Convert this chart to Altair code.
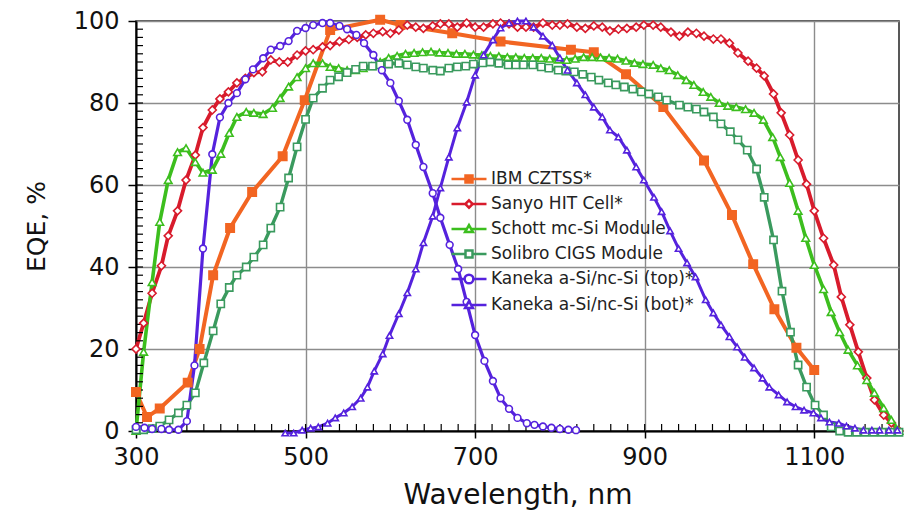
import altair as alt
import pandas as pd

# ---------------- data ----------------
names = [
    "IBM CZTSS*",
    "Sanyo HIT Cell*",
    "Schott mc-Si Module",
    "Solibro CIGS Module",
    "Kaneka a-Si/nc-Si (top)*",
    "Kaneka a-Si/nc-Si (bot)*",
]

ibm_wl = [300, 313, 328, 361, 375, 391, 411, 437, 473, 499, 529, 588, 612, 673, 730, 813, 840, 878, 922, 970, 1003, 1028, 1053, 1079, 1100]
ibm_eqe = [9.5, 3.4, 5.5, 11.8, 20, 38, 49.5, 58.3, 67, 80.7, 97.8, 100.3, 99, 97, 95, 93, 92.4, 87, 79, 66, 52.7, 40.7, 29.7, 20.3, 14.9]

sanyo_wl = [300, 309, 319, 330, 338, 349, 359, 370, 379, 390,
            399, 409, 419, 429, 439, 449, 459, 469, 479, 490,
            500, 509, 520, 529, 540, 551, 561, 571, 580, 591,
            600, 610, 620, 630, 639, 650, 659, 669, 679, 690,
            700, 710, 721, 730, 740, 750, 760, 769, 780, 791,
            800, 809, 820, 830, 840, 850, 859, 869, 879, 890,
            899, 910, 919, 931, 941, 951, 961, 970, 981, 990,
            1000, 1010, 1022, 1032, 1041, 1052, 1061, 1071, 1081, 1091,
            1100, 1111, 1123, 1132, 1142, 1152, 1162, 1171, 1182, 1191,
            1200]
sanyo_eqe = [20, 26.3, 33.6, 40.3, 47.6, 53.7, 61.2, 67.3, 74, 78.3,
             81, 82.7, 84.9, 86, 87.4, 87.6, 90.5, 90, 90, 91.7,
             92.7, 93, 93.7, 94, 95, 95.5, 96, 96.6, 97, 97.4,
             97, 97.8, 99, 98.5, 98.2, 98.8, 99.3, 99.3, 98.5, 99.5,
             98.5, 98.5, 99.3, 99.5, 99.3, 98.5, 98.5, 98.5, 99.5, 99,
             99, 99.3, 98.5, 98.2, 98.8, 98.5, 97.6, 98, 98.2, 98.5,
             99, 99, 98.5, 97.3, 96.3, 97.3, 97, 96.3, 95.6, 95.6,
             94.6, 92.2, 90.2, 88.5, 86.6, 82.2, 77.6, 72.2, 66.1, 60.2,
             53.7, 47, 40.5, 32.7, 25.9, 19.3, 12.9, 7.6, 3.9, 2,
             0]

schott_wl = [300, 309, 319, 328, 338, 349, 359, 370, 379, 390,
             400, 410, 419, 430, 439, 450, 461, 470, 480, 490,
             500, 509, 520, 529, 539, 549, 559, 568, 578, 588,
             598, 608, 618, 628, 638, 648, 658, 668, 678, 688,
             698, 708, 718, 728, 738, 748, 758, 768, 778, 788,
             798, 808, 818, 828, 838, 848, 858, 868, 878, 888,
             898, 910, 919, 929, 939, 949, 958, 969, 978, 988,
             998, 1008, 1019, 1029, 1040, 1051, 1060, 1071, 1081, 1090,
             1100, 1111, 1120, 1130, 1140, 1151, 1162, 1171, 1182, 1191,
             1200]
schott_eqe = [0, 19.3, 36.3, 51, 61.2, 68, 69, 65.6, 63, 63.7,
              67.6, 72.7, 76.6, 77.8, 77.6, 77.3, 78.8, 81.2, 84, 86.3,
              88.5, 89.7, 89.7, 88.8, 88.5, 88, 88, 88.5, 89, 90,
              91, 91.5, 92, 92.2, 92.4, 92.5, 92.3, 92.2, 92, 92,
              91.8, 91.7, 91.5, 91.4, 91.2, 91.2, 91, 91, 91, 90.8,
              90.6, 90.5, 90.8, 91.2, 91.2, 91.1, 91, 90.8, 90.3, 89.8,
              89.5, 89.3, 88.5, 88, 86.8, 85.6, 84.4, 82.7, 81.5, 80,
              79.3, 79, 78.5, 77.6, 75.9, 71.7, 66.8, 60.5, 53.7, 47.1,
              40.5, 34.6, 29, 24.1, 19.8, 16, 12.4, 9.3, 5.6, 2.7,
              0]

solibro_wl = [300, 309, 319, 328, 339, 350, 360, 370, 380, 391,
              400, 410, 419, 430, 439, 450, 459, 470, 480, 490,
              500, 509, 520, 529, 539, 549, 559, 568, 579, 588,
              598, 610, 620, 630, 639, 650, 659, 669, 679, 689,
              698, 709, 718, 728, 739, 748, 757, 768, 778, 787,
              798, 807, 817, 827, 837, 846, 857, 866, 876, 886,
              896, 905, 916, 926, 941, 951, 961, 970, 981, 990,
              1001, 1010, 1021, 1032, 1041, 1052, 1062, 1072, 1081, 1091,
              1101, 1111, 1120, 1130, 1140, 1150, 1160, 1170, 1180, 1190,
              1200]
solibro_eqe = [0.3, 0.3, 0.6, 1.2, 2.7, 4.4, 6.3, 9.3, 16.6, 24.4,
               31, 35, 38, 40, 42.4, 45.4, 49.5, 54.6, 61.7, 69.3,
               76, 81.2, 83.6, 85.6, 86.4, 87.4, 88.2, 89, 89, 89.3,
               89.5, 89.7, 89.3, 88.8, 88.5, 88, 87.8, 88.5, 88.8, 89,
               89.5, 89.8, 90, 89.7, 89.3, 89.3, 89.3, 89.3, 88.8, 88.5,
               88, 87.8, 87.6, 87, 86.3, 85.6, 84.9, 84.4, 83.9, 83.4,
               82.7, 82.2, 81.5, 80.7, 79.5, 79, 78.5, 77.8, 76.6, 74.9,
               73, 71, 68.5, 63.9, 57, 46.6, 34.1, 24.1, 16.1, 10.7,
               6.3, 3.9, 1, 0, -0.3, -0.3, -0.3, -0.3, -0.3, -0.3,
               -0.3]

ktop_wl = [300, 310, 319, 330, 339, 350, 360, 369, 379, 390,
           399, 409, 419, 429, 438, 450, 459, 470, 480, 490,
           500, 509, 520, 529, 540, 549, 560, 569, 580, 590,
           600, 610, 620, 630, 639, 650, 659, 670, 680, 690,
           700, 711, 721, 730, 740, 750, 761, 770, 780, 790,
           800, 810, 819]
ktop_eqe = [1, 0.8, 0.5, 0.5, 0.3, 0.3, 2.4, 16, 44.5, 67.5,
            76.5, 80, 82.4, 85.8, 88.2, 90.9, 93, 93.9, 95.1, 97.6,
            98.3, 99, 99.5, 99.5, 98.8, 98, 96.6, 94.6, 91.7, 88,
            84.9, 80.5, 75.9, 69.8, 64.4, 58, 52, 45.4, 39.5, 31.5,
            23.4, 17.1, 12.2, 8, 5.4, 3.2, 1.9, 1.5, 1.1, 0.8,
            0.5, 0.3, 0.2]

kbot_wl = [476, 486, 496, 506, 515, 526, 535, 545, 555, 565,
           573, 581, 591, 599, 610, 620, 630, 639, 650, 659,
           669, 679, 690, 700, 710, 721, 730, 740, 750, 760,
           769, 780, 791, 800, 809, 820, 830, 840, 850, 859,
           869, 879, 890, 899, 911, 920, 930, 940, 950, 960,
           972, 981, 990, 1000, 1009, 1018, 1029, 1039, 1047, 1058,
           1068, 1078, 1088, 1099, 1108, 1118, 1129, 1138, 1148, 1158,
           1168, 1177, 1188, 1198]
kbot_eqe = [-0.5, -0.5, 0.2, 0.7, 1, 1.9, 3.2, 4.4, 5.9, 8,
            10.7, 14.6, 18.8, 23.3, 28.6, 33.7, 39.5, 45.9, 52.4, 59.3,
            66.8, 73.9, 80.2, 86.8, 91.7, 95.4, 98.3, 99.5, 100, 100,
            98.5, 96.3, 94.1, 91, 88, 84.9, 82, 79, 76.6, 73.4,
            71.7, 68.5, 64.4, 61.2, 57, 53.5, 48.8, 44.5, 41, 37.6,
            32, 28.8, 25.9, 23, 20.5, 18, 15.4, 12.9, 10.7, 8.8,
            7.1, 5.9, 5.1, 4.4, 3.2, 2.2, 1.9, 1.2, 0.7, 0.2,
            0.2, 0.2, 0.2, 0.2]

x_major = [300, 500, 700, 900, 1100]
y_major = [0, 20, 40, 60, 80, 100]
x_minor = list(range(320, 1200, 20))
y_minor = list(range(2, 100, 2))

# ---------------- styles ----------------
colors = ["#F26522", "#D81B2C", "#3CBE1E", "#3A9A5E", "#5522DD", "#5522DD"]
plot_shapes = ["square", "diamond", "triangle-up", "square", "circle", "triangle-up"]
fills = ["#F26522", "white", "white", "white", "white", "white"]
marker_sizes = [70, 40, 55, 75, 80, 55]
line_widths = [4, 3, 3, 3, 4, 4]

# legend symbols: a line segment with the marker in the middle
legend_paths = [
    "M-2,0H-0.4M0.4,0H2M-0.4,-0.4H0.4V0.4H-0.4Z",
    "M-2,0H-0.42M0.42,0H2M0,-0.42L0.42,0L0,0.42L-0.42,0Z",
    "M-2,0H-0.25M0.25,0H2M0,-0.45L0.45,0.35L-0.45,0.35Z",
    "M-2,0H-0.4M0.4,0H2M-0.4,-0.4H0.4V0.4H-0.4Z",
    "M-2,0H-0.5M0.5,0H2M-0.5,0A0.5,0.5,0,1,0,0.5,0A0.5,0.5,0,1,0,-0.5,0Z",
    "M-2,0H-0.25M0.25,0H2M0,-0.45L0.45,0.35L-0.45,0.35Z",
]

rows = []
for name, wl, eqe in zip(names,
                         [ibm_wl, sanyo_wl, schott_wl, solibro_wl, ktop_wl, kbot_wl],
                         [ibm_eqe, sanyo_eqe, schott_eqe, solibro_eqe, ktop_eqe, kbot_eqe]):
    for w, e in zip(wl, eqe, strict=True):
        rows.append({"series": name, "wl": w, "eqe": e})
df = pd.DataFrame(rows)

W, H = 763, 410
FONT = "DejaVu Sans"
MINOR_LEN = 7

xs = alt.Scale(domain=[300, 1200], nice=False, zero=False)
ys = alt.Scale(domain=[0, 100], nice=False, zero=False)


def cat(rng):
    return alt.Scale(domain=names, range=rng)


x_axis = alt.Axis(
    values=x_major, format="d", title="Wavelength, nm", grid=True,
    gridColor="#8c8c8c", gridWidth=1.4,
    domainColor="black", domainWidth=2, tickColor="black", tickSize=7, tickWidth=1.5,
    labelFont=FONT, labelFontSize=24, labelColor="#111", labelPadding=7, labelFlush=False,
    titleFont=FONT, titleFontSize=28, titleFontWeight="normal", titleColor="#111", titlePadding=12,
)
y_axis = alt.Axis(
    values=y_major, format="d", title="EQE, %", grid=True,
    gridColor="#8c8c8c", gridWidth=1.4,
    domainColor="black", domainWidth=2, tickColor="black", tickSize=8, tickWidth=1.5,
    labelFont=FONT, labelFontSize=24, labelColor="#111", labelPadding=9, labelFlush=False,
    titleFont=FONT, titleFontSize=25, titleFontWeight="normal", titleColor="#111", titlePadding=24,
)

# inward minor ticks, placed through the shared axis scales
xminor_df = pd.DataFrame({"tick": x_minor})
yminor_df = pd.DataFrame({"tick": y_minor})

xminor = alt.Chart(xminor_df).mark_rule(color="black", strokeWidth=1.2).encode(
    x=alt.X("tick:Q", scale=xs),
    y=alt.value(H),
    y2=alt.value(H - MINOR_LEN),
)
yminor = alt.Chart(yminor_df).mark_rule(color="black", strokeWidth=1.2).encode(
    y=alt.Y("tick:Q", scale=ys),
    x=alt.value(0),
    x2=alt.value(MINOR_LEN),
)

base = alt.Chart(df)

lines = base.mark_line(strokeJoin="round", strokeCap="round").encode(
    x=alt.X("wl:Q", scale=xs, axis=x_axis),
    y=alt.Y("eqe:Q", scale=ys, axis=y_axis),
    stroke=alt.Stroke("series:N", scale=cat(colors), legend=None),
    strokeWidth=alt.StrokeWidth("series:N", scale=cat(line_widths), legend=None),
)

points = base.mark_point(opacity=1, strokeWidth=1.6).encode(
    x=alt.X("wl:Q", scale=xs),
    y=alt.Y("eqe:Q", scale=ys),
    shape=alt.Shape("series:N", scale=cat(plot_shapes), legend=None),
    stroke=alt.Stroke("series:N", scale=cat(colors), legend=None),
    fill=alt.Fill("series:N", scale=cat(fills), legend=None),
    size=alt.Size("series:N", scale=cat(marker_sizes), legend=None),
)

leg = alt.Legend(title=None, orient="none", legendX=323, legendY=148, symbolSize=306,
                 symbolStrokeWidth=2.5, symbolOpacity=1, labelFont=FONT, labelFontSize=17,
                 labelColor="#222", labelOffset=12, rowPadding=6, padding=0, labelLimit=400)

legend_layer = base.transform_filter("datum.eqe > 1000").mark_point(opacity=1).encode(
    x=alt.X("wl:Q", scale=xs),
    y=alt.Y("eqe:Q", scale=ys),
    shape=alt.Shape("series:N", scale=cat(legend_paths), legend=leg),
    stroke=alt.Stroke("series:N", scale=cat(colors), legend=leg),
    fill=alt.Fill("series:N", scale=cat(fills), legend=leg),
)

chart = alt.layer(lines, xminor, yminor, points, legend_layer).resolve_scale(
    stroke="independent", fill="independent", shape="independent",
    size="independent", strokeWidth="independent",
).properties(
    width=W, height=H,
    padding={"left": 136, "top": 21, "right": 5, "bottom": 81},
    autosize=alt.AutoSizeParams(type="none"),
    background="white",
).configure_view(stroke="#222", strokeWidth=1.5)

chart.save("out.html", embed_options={"renderer": "svg", "actions": False})
